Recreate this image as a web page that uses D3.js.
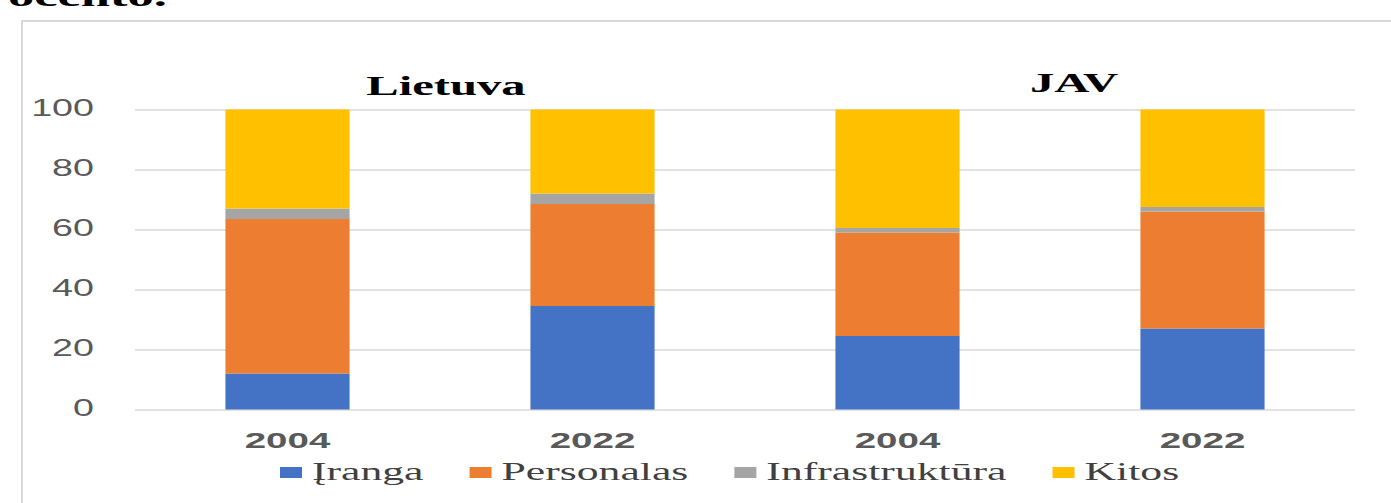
<!DOCTYPE html>
<html>
<head>
<meta charset="utf-8">
<script src="https://cdn.jsdelivr.net/npm/d3@7"></script>
<style>
  body { margin: 0; background: #fff; }
  svg { display: block; }
</style>
</head>
<body>
<div id="chart"></div>
<script>
// data (percent of total)
const barIds = ["LT2004", "LT2022", "US2004", "US2022"];
const yearLabels = ["2004", "2022", "2004", "2022"];
const groupTitles = ["Lietuva", "JAV"];
const seriesNames = ["Įranga", "Personalas", "Infrastruktūra", "Kitos"];
const iranga = [12, 34.5, 24.5, 27];
const personalas = [51.5, 34, 34.5, 39];
const infrastruktura = [3.5, 3.5, 1.5, 1.5];
const kitos = [33, 28, 39.5, 32.5];
const yTicks = [0, 20, 40, 60, 80, 100];

const colors = ["#4472C4", "#ED7D31", "#A5A5A5", "#FFC000"];

const W = 1391, H = 503;
const plot = {left: 135, right: 1355, top: 109.5, bottom: 409.5};

const svg = d3.select("#chart").append("svg")
    .attr("width", W)
    .attr("height", H);

// the picture is stretched sideways, so text is too
function stretch(sel, f) {
    sel.each(function() {
        const t = d3.select(this);
        const x = +t.attr("x") || 0, y = +t.attr("y") || 0;
        t.attr("transform", `translate(${x},${y}) scale(${f},1) translate(${-x},${-y})`);
    });
}

// cut-off line of text above the chart
svg.append("text")
    .attr("x", 8)
    .attr("y", 6)
    .attr("font-family", "Liberation Serif")
    .attr("font-weight", "bold")
    .attr("font-size", 30)
    .attr("fill", "#000")
    .text("ocento.")
    .call(stretch, 1.75);

// chart frame
svg.append("rect")
    .attr("x", 22)
    .attr("y", 21)
    .attr("width", 1420)
    .attr("height", 520)
    .attr("fill", "none")
    .attr("stroke", "#d9d9d9")
    .attr("stroke-width", 2);

const x = d3.scaleBand()
    .domain(barIds)
    .range([plot.left, plot.right])
    .paddingInner(0.593)
    .paddingOuter(0.2965);

const y = d3.scaleLinear()
    .domain([0, 100])
    .range([plot.bottom, plot.top]);

// gridlines
const grid = svg.append("g")
    .attr("transform", `translate(${plot.left},0)`)
    .call(d3.axisLeft(y).tickValues(yTicks).tickSize(-(plot.right - plot.left)).tickFormat(""));
grid.select(".domain").remove();
grid.selectAll("line").attr("stroke", "#d9d9d9").attr("stroke-width", 1.5);

// y axis labels
const yAxis = svg.append("g")
    .attr("transform", `translate(${plot.left},0)`)
    .call(d3.axisLeft(y).tickValues(yTicks).tickSize(0).tickPadding(41));
yAxis.select(".domain").remove();
yAxis.selectAll("text")
    .attr("font-family", "Liberation Sans")
    .attr("font-size", 24)
    .attr("fill", "#595959")
    .attr("dy", "0.25em")
    .call(stretch, 1.57);

// stacked bars
const rows = barIds.map((id, i) => ({
    id: id,
    "Įranga": iranga[i],
    "Personalas": personalas[i],
    "Infrastruktūra": infrastruktura[i],
    "Kitos": kitos[i]
}));
const stack = d3.stack().keys(seriesNames)(rows);

svg.append("g")
    .selectAll("g")
    .data(stack)
    .join("g")
    .attr("fill", (d, i) => colors[i])
    .selectAll("rect")
    .data(d => d)
    .join("rect")
    .attr("x", d => x(d.data.id))
    .attr("y", d => y(d[1]))
    .attr("width", x.bandwidth())
    .attr("height", d => y(d[0]) - y(d[1]));

// x axis labels
const xAxis = svg.append("g")
    .attr("transform", `translate(0,${plot.bottom})`)
    .call(d3.axisBottom(x).tickSize(0).tickPadding(23).tickFormat((d, i) => yearLabels[i]));
xAxis.select(".domain").remove();
xAxis.selectAll("text")
    .attr("font-family", "Liberation Sans")
    .attr("font-weight", "bold")
    .attr("font-size", 22)
    .attr("fill", "#595959")
    .call(stretch, 1.75);

// group titles
const titleShift = [6, 24];
groupTitles.forEach((t, g) => {
    const a = barIds[g * 2], b = barIds[g * 2 + 1];
    const cx = (x(a) + x(b) + x.bandwidth()) / 2 + titleShift[g];
    svg.append("text")
        .attr("x", cx)
        .attr("y", g === 0 ? 95 : 92)
        .attr("text-anchor", "middle")
        .attr("font-family", "Liberation Serif")
        .attr("font-weight", "bold")
        .attr("font-size", 27)
        .attr("fill", "#000")
        .text(t)
        .call(stretch, 1.8);
});

// legend
const legend = svg.append("g");
let lx = 280;
seriesNames.forEach((name, i) => {
    legend.append("rect")
        .attr("x", lx)
        .attr("y", 467)
        .attr("width", 22)
        .attr("height", 11)
        .attr("fill", colors[i]);
    const t = legend.append("text")
        .attr("x", lx + 32)
        .attr("y", 480)
        .attr("font-family", "Liberation Serif")
        .attr("font-size", 26)
        .attr("fill", "#404040")
        .text(name);
    const w = t.node().getComputedTextLength() * 1.68;
    t.call(stretch, 1.68);
    lx += 32 + w + 46;
});
</script>
</body>
</html>
